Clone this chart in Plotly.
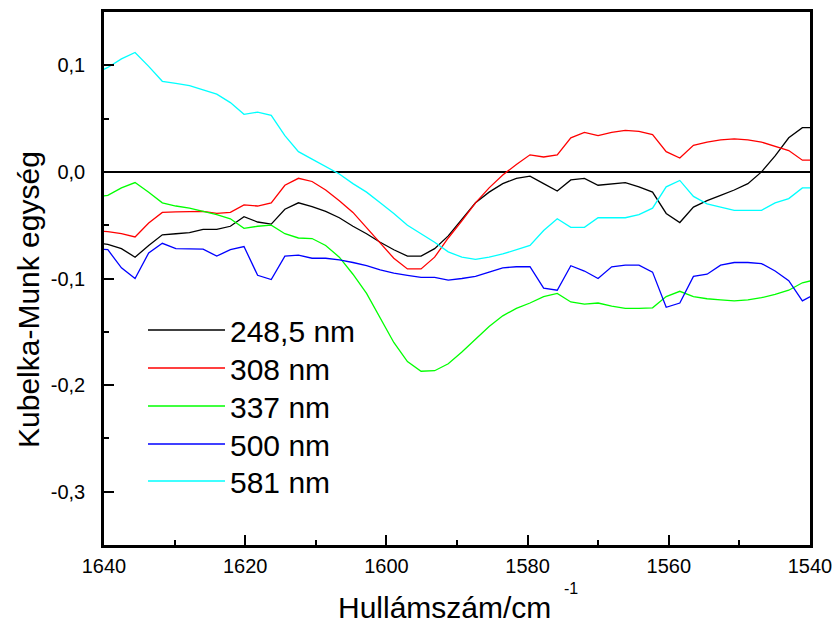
import numpy as np
import plotly.graph_objects as go

# Wavenumber sampling grid of the spectra (cm^-1), ~1.93 cm^-1 steps
wavenumber = np.round(1641.39 - 1.929 * np.arange(54), 2)

series_names = ["248,5 nm", "308 nm", "337 nm", "500 nm", "581 nm"]
series_colors = ["#000000", "#ff0000", "#00ff00", "#0000ff", "#00ffff"]

km_248 = [-0.066, -0.068, -0.072, -0.080, -0.069, -0.059, -0.058, -0.057, -0.054, -0.054,
          -0.051, -0.042, -0.047, -0.049, -0.035, -0.029, -0.0325, -0.037, -0.043, -0.051,
          -0.058, -0.066, -0.073, -0.079, -0.079, -0.072, -0.060, -0.044, -0.029, -0.019,
          -0.011, -0.006, -0.004, -0.011, -0.018, -0.0075, -0.006, -0.0125, -0.011, -0.010,
          -0.014, -0.019, -0.039, -0.0475, -0.033, -0.027, -0.022, -0.017, -0.011, 0.000,
          0.015, 0.032, 0.0415, 0.0415]

km_308 = [-0.055, -0.056, -0.058, -0.061, -0.048, -0.038, -0.0375, -0.037, -0.037, -0.039,
          -0.038, -0.031, -0.032, -0.029, -0.0125, -0.006, -0.009, -0.017, -0.027, -0.038,
          -0.052, -0.066, -0.081, -0.091, -0.091, -0.080, -0.062, -0.046, -0.029, -0.015,
          -0.003, 0.007, 0.016, 0.014, 0.016, 0.032, 0.037, 0.034, 0.037, 0.039,
          0.038, 0.035, 0.019, 0.013, 0.025, 0.028, 0.030, 0.031, 0.030, 0.028,
          0.024, 0.020, 0.011, 0.011]

km_337 = [-0.024, -0.022, -0.015, -0.010, -0.019, -0.029, -0.032, -0.034, -0.037, -0.040,
          -0.044, -0.053, -0.051, -0.050, -0.058, -0.062, -0.0625, -0.069, -0.080, -0.096,
          -0.114, -0.137, -0.160, -0.178, -0.187, -0.1865, -0.180, -0.169, -0.157, -0.145,
          -0.135, -0.128, -0.123, -0.117, -0.114, -0.122, -0.124, -0.123, -0.126, -0.128,
          -0.128, -0.1275, -0.117, -0.112, -0.117, -0.119, -0.120, -0.121, -0.120, -0.118,
          -0.115, -0.111, -0.104, -0.101]

km_500 = [-0.072, -0.073, -0.090, -0.100, -0.076, -0.067, -0.072, -0.072, -0.0725, -0.079,
          -0.073, -0.070, -0.097, -0.101, -0.079, -0.078, -0.081, -0.081, -0.0825, -0.085,
          -0.088, -0.092, -0.095, -0.097, -0.099, -0.099, -0.1015, -0.100, -0.098, -0.094,
          -0.090, -0.089, -0.089, -0.109, -0.111, -0.088, -0.093, -0.100, -0.089, -0.0875,
          -0.0875, -0.094, -0.127, -0.123, -0.098, -0.096, -0.0875, -0.085, -0.085, -0.086,
          -0.093, -0.102, -0.121, -0.114]

km_581 = [0.092, 0.098, 0.106, 0.112, 0.099, 0.085, 0.083, 0.081, 0.077, 0.073,
          0.065, 0.054, 0.056, 0.053, 0.034, 0.019, 0.012, 0.005, -0.002, -0.011,
          -0.019, -0.029, -0.039, -0.050, -0.058, -0.066, -0.075, -0.080, -0.082, -0.080,
          -0.077, -0.073, -0.069, -0.055, -0.044, -0.052, -0.052, -0.043, -0.043, -0.043,
          -0.040, -0.034, -0.014, -0.008, -0.023, -0.030, -0.033, -0.036, -0.036, -0.036,
          -0.029, -0.025, -0.015, -0.015]

series_values = [km_248, km_308, km_337, km_500, km_581]

x_ticks = [1640, 1620, 1600, 1580, 1560, 1540]
y_ticks = [-0.3, -0.2, -0.1, 0.0, 0.1]
y_ticktext = ["-0,3", "-0,2", "-0,1", "0,0", "0,1"]

FONT = "Liberation Sans, Arial, Helvetica, sans-serif"

fig = go.Figure()
legend_ids = ["legend", "legend2", "legend3", "legend4", "legend5"]
for name, color, vals, lid in zip(series_names, series_colors, series_values, legend_ids):
    fig.add_trace(go.Scatter(
        x=wavenumber, y=vals, mode="lines", name=name,
        line=dict(color=color, width=1.3), legend=lid,
    ))

# Pixel geometry of the plotting area inside the 835x628 page
plot_top, plot_bottom, plot_left, plot_w = 12, 545, 104, 706
plot_h = plot_bottom - plot_top


def px_x(px):
    return (px - plot_left) / plot_w


def px_y(py):
    return (plot_bottom - py) / plot_h


# One single-entry legend per series, stacked down the lower left of the plot
legend_rows_px = [330, 368, 406, 444, 481]
layout_legends = {}
for lid, ypx in zip(legend_ids, legend_rows_px):
    layout_legends[lid] = dict(
        x=px_x(143), xanchor="left", y=px_y(ypx), yanchor="middle",
        bgcolor="rgba(0,0,0,0)", borderwidth=0,
        font=dict(family=FONT, size=30, color="black"),
        itemwidth=77,
    )

axis_common = dict(
    showline=True, linecolor="black", linewidth=2.5, mirror=True, automargin=False,
    showgrid=False, ticks="inside", ticklen=10, tickwidth=2, tickcolor="black",
    tickfont=dict(family=FONT, size=20, color="black"),
)

fig.update_layout(
    width=835, height=628,
    margin=dict(l=104, r=25, t=12, b=83),
    paper_bgcolor="white", plot_bgcolor="white",
    font=dict(family=FONT, color="black"),
    showlegend=True,
    xaxis=dict(
        range=[1640, 1540], tickvals=x_ticks, zeroline=False,
        minor=dict(dtick=10, ticks="inside", ticklen=5, tickwidth=2, tickcolor="black"),
        ticklabelstandoff=1,
        **axis_common,
    ),
    yaxis=dict(
        range=[-0.35, 0.15], tickvals=y_ticks, ticktext=y_ticktext,
        zeroline=True, zerolinecolor="black", zerolinewidth=2,
        minor=dict(dtick=0.05, ticks="inside", ticklen=5, tickwidth=2, tickcolor="black"),
        ticklabelstandoff=12,
        **axis_common,
    ),
    annotations=[
        dict(text="Kubelka-Munk egység", textangle=-90,
             xref="paper", yref="paper", x=px_x(28), y=px_y(300),
             xanchor="center", yanchor="middle", showarrow=False,
             font=dict(family=FONT, size=30, color="black")),
        dict(text="Hullámszám/cm",
             xref="paper", yref="paper", x=px_x(444), y=px_y(607),
             xanchor="center", yanchor="middle", showarrow=False,
             font=dict(family=FONT, size=30, color="black")),
        dict(text="-1",
             xref="paper", yref="paper", x=px_x(571), y=px_y(588),
             xanchor="center", yanchor="middle", showarrow=False,
             font=dict(family=FONT, size=16, color="black")),
    ],
    **layout_legends,
)

fig.write_html("out.html")
